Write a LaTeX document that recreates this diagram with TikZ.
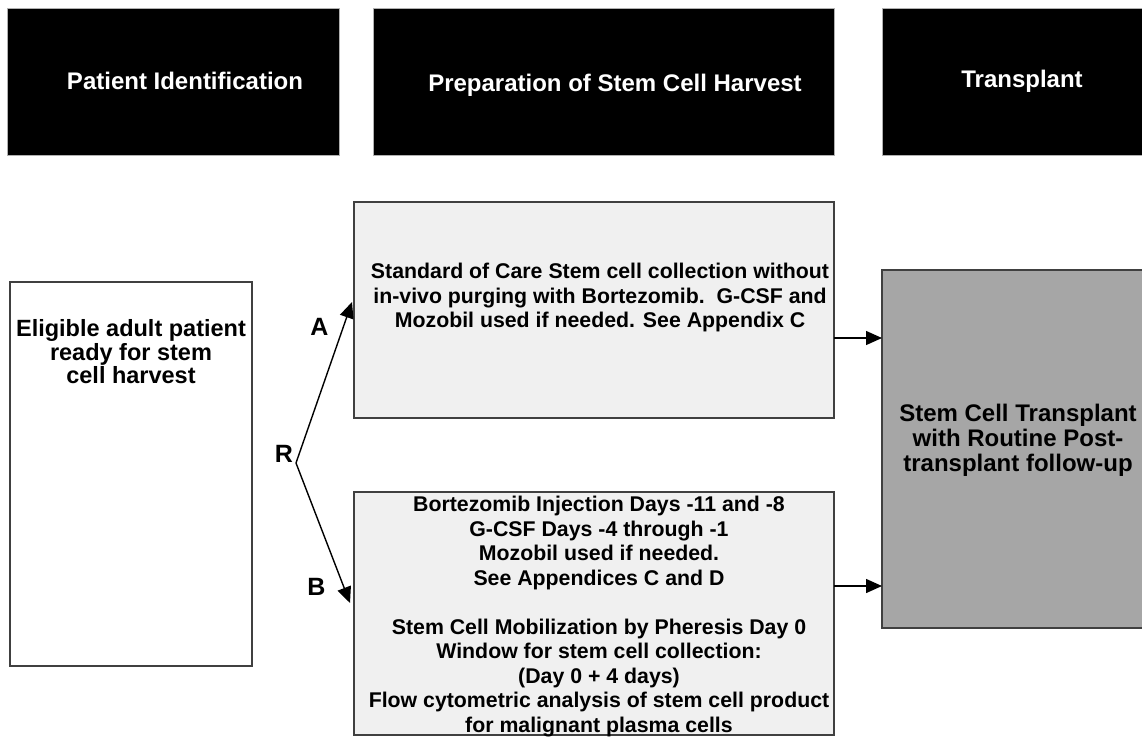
\documentclass[tikz,border=0pt]{standalone}
\usepackage{fontspec}
\setmainfont{Liberation Sans}
\usetikzlibrary{arrows.meta}
\definecolor{boxline}{HTML}{404040}
\definecolor{hdrline}{HTML}{B0B0B0}
\definecolor{lightfill}{HTML}{F0F0F0}
\definecolor{grayfill}{HTML}{A6A6A6}
\begin{document}
\begin{tikzpicture}[x=1pt,y=-1pt,
  box/.style={draw=boxline, line width=1.3pt, inner sep=0pt, outer sep=0pt, rectangle},
  hdrbox/.style={draw=hdrline, line width=0.8pt, fill=black, inner sep=0pt, outer sep=0pt, rectangle},
  hdrtext/.style={text=white, inner sep=0pt, font=\fontsize{24}{27}\selectfont\bfseries},
  bodya/.style={align=center, inner sep=0pt, font=\fontsize{21.3}{24.5}\selectfont\bfseries},
  bodyb/.style={align=center, inner sep=0pt, font=\fontsize{23.5}{23.5}\selectfont\bfseries},
  bodyc/.style={align=center, inner sep=0pt, font=\fontsize{24}{24.8}\selectfont\bfseries},
  lbl/.style={inner sep=0pt, font=\fontsize{25}{28}\selectfont\bfseries},
  arr/.style={-{Triangle[length=16pt,width=14pt]}, line width=1.4pt}]
\useasboundingbox (0,0) rectangle (1142,736);
\clip (0,0) rectangle (1142,736);
\fill[white] (0,0) rectangle (1142,736);

% header bars
\node[hdrbox, minimum width=332pt, minimum height=147pt] (h1) at (173,81.5) {};
\node[hdrbox, minimum width=461pt, minimum height=147pt] (h2) at (603.5,81.5) {};
\node[hdrbox, minimum width=264pt, minimum height=147pt] (h3) at (1014,81.5) {};
\node[hdrtext] (h1t) at (185,81) {Patient Identification};
\node[hdrtext] (h2t) at (615,85) {Preparation of Stem Cell Harvest};
\node[hdrtext] (h3t) at (1022,81) {Transplant};

% boxes
\node[box, fill=white, minimum width=242pt, minimum height=384pt] (left) at (131,474) {};
\node[box, fill=lightfill, minimum width=480pt, minimum height=216pt] (boxA) at (594,310) {};
\node[box, fill=lightfill, minimum width=480pt, minimum height=243pt] (boxB) at (594,613.5) {};
\node[box, fill=grayfill, minimum width=264pt, minimum height=358pt] (gray) at (1014,449) {};

% texts
\node[bodyb] (leftt) at (131,352) {Eligible adult patient\\ready for stem\\cell harvest};
\node[bodya] (boxAt) at (600,297.5) {Standard of Care Stem cell collection without\\in-vivo purging with Bortezomib.\ \ G-CSF and\\Mozobil used if needed. See Appendix C};
\node[bodya] (boxBt) at (599,616.5) {Bortezomib Injection Days -11 and -8\\G-CSF Days -4 through -1\\Mozobil used if needed.\\See Appendices C and D\\[24.5pt]Stem Cell Mobilization by Pheresis Day 0\\Window for stem cell collection:\\(Day 0 + 4 days)\\Flow cytometric analysis of stem cell product\\for malignant plasma cells};
\node[bodyc] (grayt) at (1018,440.5) {Stem Cell Transplant\\with Routine Post-\\transplant follow-up};

% randomisation
\coordinate (R) at (296,463);
\node[lbl, anchor=east] (Rl) at (293,454) {R};
\node[lbl] (Al) at (319.5,326.5) {A};
\node[lbl] (Bl) at (316.5,586.5) {B};
\draw[arr] (R) -- ([yshift=8pt,xshift=-2pt]boxA.west);
\draw[arr] (R) -- ([yshift=10.5pt,xshift=-4pt]boxB.west);

% to transplant
\draw[arr] ([yshift=-28pt]boxA.east) -- ([yshift=-28pt]boxA.east -| gray.west);
\draw[arr] ([yshift=27.5pt]boxB.east) -- ([yshift=27.5pt]boxB.east -| gray.west);
\end{tikzpicture}
\end{document}
